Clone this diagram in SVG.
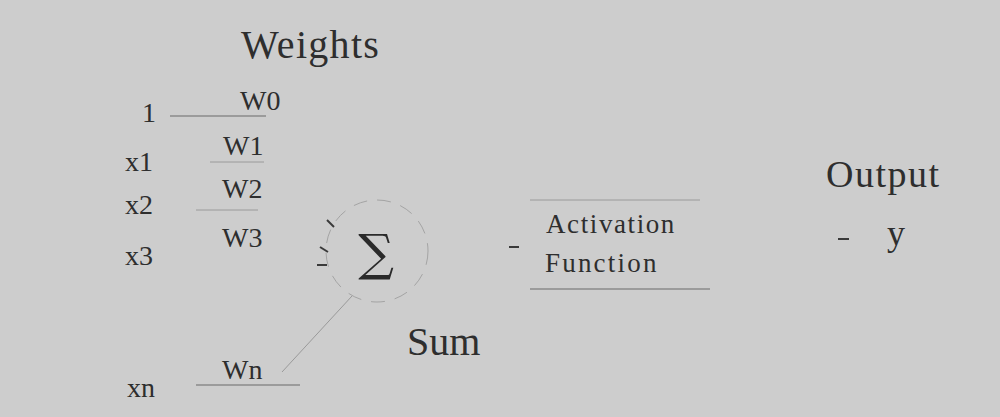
<svg xmlns="http://www.w3.org/2000/svg" width="1000" height="417" viewBox="0 0 1000 417">
<style>
.t{font-family:"Liberation Serif","DejaVu Serif",serif;fill:#2e2e2e}
.in{font-size:28px;text-anchor:end}
.w{font-size:28px}
.ln{stroke:#6a6a6a;stroke-width:1.2;fill:none}
.fl{stroke:#9a9a9a;stroke-width:1;fill:none}
.mk{stroke:#3a3a3a;stroke-width:2;fill:none}
</style>
<rect width="1000" height="417" fill="#cdcdcd"/>
<g id="title"><text class="t" x="241" y="58" font-size="40" letter-spacing="1.3">Weights</text></g>
<g id="inputs">
<text class="t in" x="156" y="122">1</text>
<text class="t in" x="153" y="171">x1</text>
<text class="t in" x="153" y="214">x2</text>
<text class="t in" x="153" y="265">x3</text>
<text class="t in" x="155" y="397">xn</text>
</g>
<g id="weights">
<text class="t w" x="240" y="110">W0</text>
<text class="t w" x="223" y="155">W1</text>
<text class="t w" x="222" y="198">W2</text>
<text class="t w" x="222" y="247">W3</text>
<text class="t w" x="222" y="379">Wn</text>
</g>
<g id="sum">
<circle stroke="#a4a4a4" stroke-width="1" fill="none" cx="377" cy="251" r="51" stroke-dasharray="14 10"/>
<text x="376" y="270" font-family="DejaVu Serif,'Liberation Serif',serif" font-size="50" text-anchor="middle" fill="#2a2a2a">∑</text>
<text class="t" x="407" y="355" font-size="40">Sum</text>
</g>
<g id="activation">
<text class="t" x="546" y="233" font-size="27" letter-spacing="1.6">Activation</text>
<text class="t" x="545" y="272" font-size="27" letter-spacing="2.2">Function</text>
</g>
<g id="output">
<text class="t" x="826" y="187" font-size="38" letter-spacing="1.5">Output</text>
<text class="t" x="887" y="245" font-size="36">y</text>
</g>
<g id="connectors">
<line class="ln" x1="170" y1="116" x2="266" y2="116"/>
<line class="fl" x1="210" y1="162" x2="264" y2="162"/>
<line class="fl" x1="196" y1="210" x2="258" y2="210"/>
<line class="ln" x1="196" y1="385" x2="300" y2="385"/>
<line class="fl" x1="282" y1="372" x2="352" y2="296"/>
<line class="mk" x1="327" y1="220" x2="334" y2="227"/>
<line class="mk" x1="320" y1="247" x2="328" y2="252"/>
<line class="mk" x1="317" y1="265" x2="327" y2="265"/>
<line class="mk" x1="509" y1="247" x2="519" y2="247"/>
<line class="fl" x1="530" y1="200" x2="700" y2="200"/>
<line class="ln" x1="530" y1="289" x2="710" y2="289"/>
<line class="mk" x1="838" y1="239" x2="849" y2="239"/>
</g>
</svg>
